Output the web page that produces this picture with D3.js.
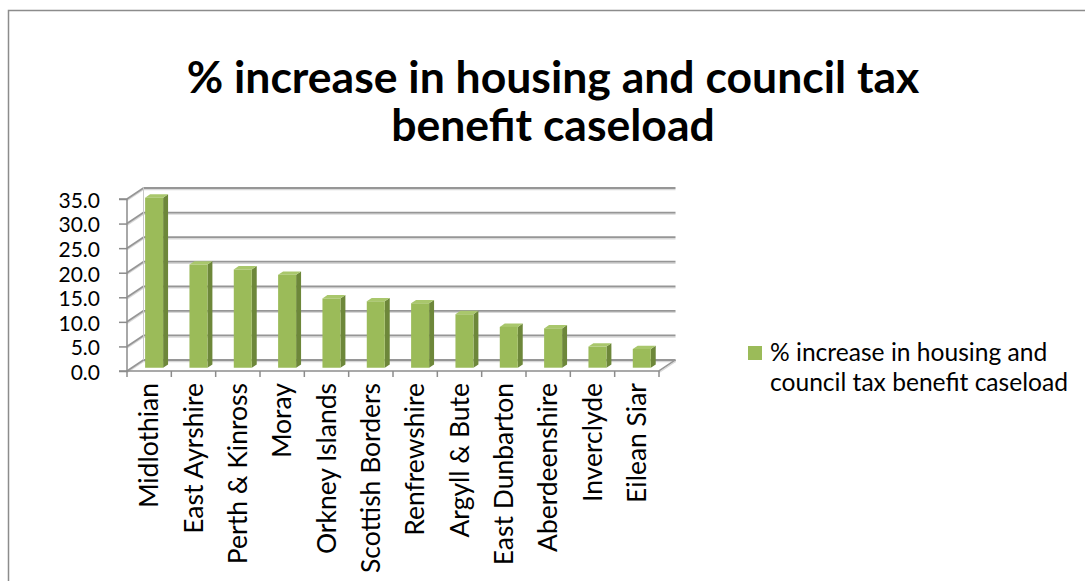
<!DOCTYPE html>
<html>
<head>
<meta charset="utf-8">
<script src="https://cdn.jsdelivr.net/npm/d3@7"></script>
<style>
  body { margin: 0; background: #fff; }
  svg text { font-family: Lato, "Open Sans", sans-serif; fill: #000; }
</style>
</head>
<body>
<svg id="chart" width="1085" height="581"></svg>
<script>
// data
var categories = ["Midlothian", "East Ayrshire", "Perth & Kinross", "Moray", "Orkney Islands",
  "Scottish Borders", "Renfrewshire", "Argyll & Bute", "East Dunbarton", "Aberdeenshire",
  "Inverclyde", "Eilean Siar"];
var values = [34.6, 21.0, 20.0, 18.9, 14.1, 13.5, 13.1, 10.9, 8.3, 8.0, 4.3, 3.8];
var yTicks = [0, 5, 10, 15, 20, 25, 30, 35];
var seriesName = "% increase in housing and council tax benefit caseload";
var titleLines = ["% increase in housing and council tax", "benefit caseload"];
var legendLines = ["% increase in housing and", "council tax benefit caseload"];

var svg = d3.select("#chart");

// depth offset of the 3d box (front -> back)
var depthX = 16.5, depthY = -11;
var barFront = 0.3, barBack = 0.6;

var x = d3.scaleBand().domain(categories).range([127, 659]).paddingInner(0).paddingOuter(0);
var y = d3.scaleLinear().domain([0, 35]).range([371, 199]);

function pt(px, py, f) { return [px + f * depthX, py + f * depthY]; }

// frame (only top and left edges show in the reference)
svg.append("path")
  .attr("d", "M8.5,581 L8.5,10.5 L1085,10.5")
  .attr("fill", "none")
  .attr("stroke", "#8c8c8c")
  .attr("stroke-width", 1.5);

// title, fitted to the reference width
var title = svg.append("g").attr("class", "title");
titleLines.forEach(function(t, i) {
  title.append("text")
    .attr("x", 553)
    .attr("y", 93 + i * 48)
    .attr("text-anchor", "middle")
    .style("font-weight", "bold")
    .style("font-size", "38px")
    .text(t);
});
var t0 = title.select("text").node();
var titleSize = 38 * 733 / t0.getComputedTextLength();
title.selectAll("text").style("font-size", titleSize + "px");

var plot = svg.append("g").attr("class", "plot");
var x0 = x.range()[0], x1 = x.range()[1];

// back wall gridlines
function gridLine(g, a, b, w, c) {
  g.append("line")
    .attr("x1", a[0]).attr("y1", a[1]).attr("x2", b[0]).attr("y2", b[1])
    .attr("stroke", c).attr("stroke-width", w);
}
yTicks.forEach(function(v) {
  var fl = pt(x0, y(v), 0), bl = pt(x0, y(v), 1), br = pt(x1, y(v), 1);
  // soft shadow under each line
  gridLine(plot, [bl[0], bl[1] + 1.5], [br[0], br[1] + 1.5], 1.5, "#d8d8d8");
  gridLine(plot, [fl[0], fl[1] + 1.5], [bl[0], bl[1] + 1.5], 1.5, "#d8d8d8");
  gridLine(plot, bl, br, 1.8, "#969696");
  gridLine(plot, fl, bl, 1.8, "#969696");
});
// back left corner and floor
var blTop = pt(x0, y(35), 1), blBot = pt(x0, y(0), 1);
gridLine(plot, blTop, blBot, 1, "#c8c8c8");
var frBot = pt(x1, y(0), 0), brBot = pt(x1, y(0), 1);
gridLine(plot, frBot, brBot, 1.8, "#969696");
gridLine(plot, [frBot[0], frBot[1] + 1.5], [brBot[0], brBot[1] + 1.5], 1.5, "#d8d8d8");

// bars: side, top and front faces
var bw = 18, off = (x.bandwidth() - bw) / 2;
var bars = plot.selectAll("g.bar").data(categories).enter().append("g").attr("class", "bar");
function poly(pts) { return "M" + pts.map(function(p) { return p.join(","); }).join("L") + "Z"; }
bars.each(function(c, i) {
  var g = d3.select(this);
  var l = x(c) + off, r = l + bw, top = y(values[i]), bot = y(0);
  var fTL = pt(l, top, barFront), fTR = pt(r, top, barFront),
      fBL = pt(l, bot, barFront), fBR = pt(r, bot, barFront),
      bTL = pt(l, top, barBack), bTR = pt(r, top, barBack), bBR = pt(r, bot, barBack);
  g.append("path").attr("d", poly([fTR, bTR, bBR, fBR])).attr("fill", "#6d873a");
  g.append("path").attr("d", poly([fTL, bTL, bTR, fTR])).attr("fill", "#a9c76c");
  g.append("path").attr("d", poly([fTL, fTR, fBR, fBL])).attr("fill", "#9bbb59");
});

// front axes
var yAxis = d3.axisLeft(y).tickValues(yTicks).tickFormat(d3.format(".1f")).tickSize(8).tickPadding(19);
var yg = plot.append("g").attr("transform", "translate(" + x0 + ",0)").call(yAxis);
yg.select(".domain").attr("stroke", "#8c8c8c").attr("stroke-width", 1.5).attr("d", "M-8," + y(0) + "H0V" + y(35) + "H-8");
yg.selectAll(".tick line").attr("stroke", "#8c8c8c").attr("stroke-width", 1.5);
yg.selectAll(".tick text").style("font-size", "21px").attr("dy", "0.4em").style("fill", "#000");

plot.append("line")
  .attr("x1", x0).attr("x2", x1).attr("y1", y(0)).attr("y2", y(0))
  .attr("stroke", "#8c8c8c").attr("stroke-width", 1.5);
var bounds = categories.map(function(c) { return x(c); }).concat([x1]);
plot.selectAll("line.ctick").data(bounds).enter().append("line")
  .attr("class", "ctick")
  .attr("x1", function(d) { return d; }).attr("x2", function(d) { return d; })
  .attr("y1", y(0)).attr("y2", y(0) + 6)
  .attr("stroke", "#8c8c8c").attr("stroke-width", 1.5);

var xAxis = d3.axisBottom(x).tickSize(0).tickPadding(0);
var xg = plot.append("g").attr("transform", "translate(0," + (y(0) + 12) + ")").call(xAxis);
xg.select(".domain").remove();
xg.selectAll(".tick text")
  .style("font-size", "20px")
  .style("fill", "#000")
  .attr("text-anchor", "end")
  .attr("transform", "rotate(-90)")
  .attr("x", 0).attr("y", 0).attr("dy", "0.35em");
var ref = xg.selectAll(".tick text").filter(function(d) { return d === "Scottish Borders"; }).node();
var cs = 20 * 190 / ref.getComputedTextLength();
xg.selectAll(".tick text").style("font-size", cs + "px");

// legend
var legend = svg.append("g").attr("class", "legend");
legend.append("rect").attr("x", 748).attr("y", 346).attr("width", 14).attr("height", 14).attr("fill", "#9bbb59");
legend.selectAll("text").data(legendLines).enter().append("text")
  .attr("x", 770).attr("y", function(d, i) { return 361 + i * 30; })
  .style("font-size", "20px")
  .text(function(d) { return d; });
var lw = legend.selectAll("text").filter(function(d, i) { return i === 1; }).node().getComputedTextLength();
legend.selectAll("text").style("font-size", (20 * 298 / lw) + "px");
</script>
</body>
</html>
